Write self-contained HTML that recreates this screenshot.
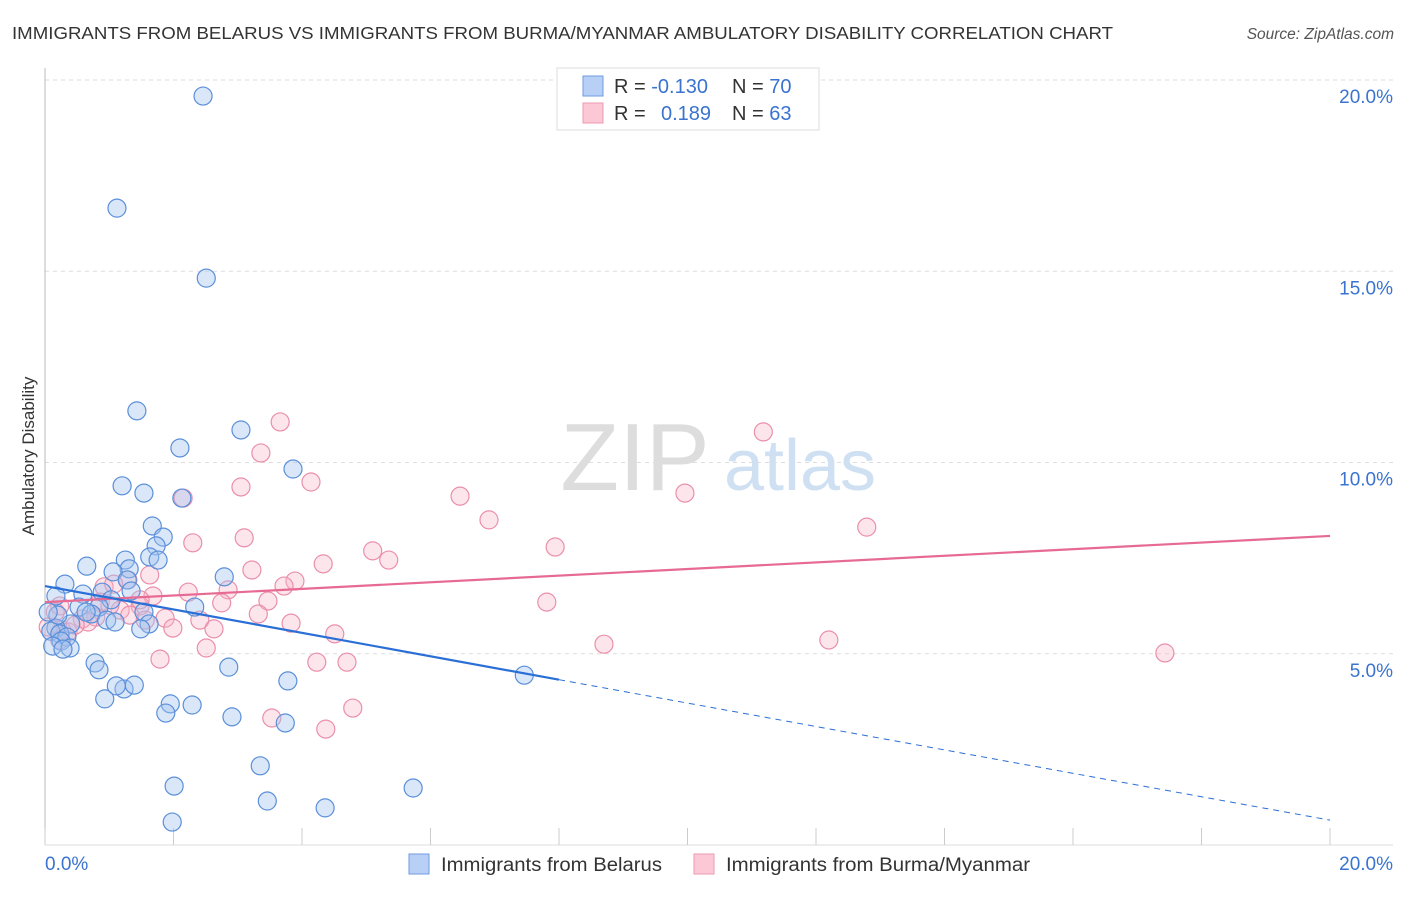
<!DOCTYPE html>
<html><head><meta charset="utf-8"><style>
body{margin:0;background:#fff;font-family:"Liberation Sans",sans-serif;}
svg text{font-family:"Liberation Sans",sans-serif;}
</style></head><body>
<svg width="1406" height="892" viewBox="0 0 1406 892">
<text x="12" y="39" font-size="17.5" fill="#333" textLength="1101" lengthAdjust="spacingAndGlyphs">IMMIGRANTS FROM BELARUS VS IMMIGRANTS FROM BURMA/MYANMAR AMBULATORY DISABILITY CORRELATION CHART</text>
<text x="1394" y="39" font-size="15.5" fill="#555" font-style="italic" text-anchor="end">Source: ZipAtlas.com</text>
<g id="grid"></g>
<g><text x="635" y="490" font-size="96" fill="#ddd" font-family="Liberation Serif" text-anchor="middle">ZIP</text><text x="800" y="490" font-size="72" fill="#d0e0f3" text-anchor="middle">atlas</text></g>
<line x1="45" y1="68" x2="45" y2="845" stroke="#bbb"/>
<line x1="45" y1="845" x2="1393" y2="845" stroke="#ddd"/>
<g id="xticks"></g>
<g id="yticks"></g>
<text x="45" y="870" font-size="19" fill="#3a73d0">0.0%</text>
<text x="1393" y="870" font-size="19" fill="#3a73d0" text-anchor="end">20.0%</text>
<text transform="translate(34,456) rotate(-90)" font-size="17" fill="#333" text-anchor="middle">Ambulatory Disability</text>
<g id="pink"></g>
<g id="blue"></g>
<g id="trends"></g>
<g>
<rect x="557" y="68" width="262" height="62" fill="#fff" stroke="#ddd"/>
<rect x="583" y="76" width="20" height="20" fill="#b8d0f5" stroke="#6f9be0"/>
<rect x="583" y="103" width="20" height="20" fill="#fcc8d6" stroke="#ee9ab2"/>
<text x="614" y="93" font-size="20" fill="#333">R = <tspan fill="#3a73d0">-0.130</tspan></text>
<text x="732" y="93" font-size="20" fill="#333">N = <tspan fill="#3a73d0">70</tspan></text>
<text x="614" y="120" font-size="20" fill="#333">R = <tspan fill="#3a73d0" x="661">0.189</tspan></text>
<text x="732" y="120" font-size="20" fill="#333">N = <tspan fill="#3a73d0">63</tspan></text>
</g>
<g>
<rect x="409" y="854" width="20" height="20" fill="#b8d0f5" stroke="#6f9be0"/>
<text x="441" y="871" font-size="19" fill="#333" textLength="221" lengthAdjust="spacingAndGlyphs">Immigrants from Belarus</text>
<rect x="694" y="854" width="20" height="20" fill="#fcc8d6" stroke="#ee9ab2"/>
<text x="726" y="871" font-size="19" fill="#333" textLength="304" lengthAdjust="spacingAndGlyphs">Immigrants from Burma/Myanmar</text>
</g>
</svg>
<script>
const yTicks=[5,10,15,20];
const yTickLabels=["5.0%","10.0%","15.0%","20.0%"];
const xTicks=[0,2,4,6,8,10,12,14,16,18,20];
const belarusX=[2.46,1.12,2.51,1.43,2.10,3.05,3.86,1.20,1.54,2.13,1.67,1.84,1.73,1.25,1.63,1.76,0.65,1.31,1.06,2.79,0.31,1.28,1.34,0.89,0.59,0.17,1.03,0.53,0.84,2.33,0.72,1.54,0.96,0.40,1.62,1.49,0.17,0.09,0.23,0.34,0.25,0.12,0.39,0.28,0.78,0.84,2.86,7.46,3.78,0.93,1.23,1.39,1.11,1.95,2.29,1.88,2.91,3.74,3.35,2.01,3.46,4.36,5.73,1.98,0.20,0.64,0.05,1.09];
const belarusY=[19.58,16.65,14.82,11.35,10.38,10.85,9.83,9.39,9.20,9.07,8.34,8.05,7.82,7.45,7.53,7.45,7.29,7.22,7.14,7.01,6.82,6.93,6.64,6.61,6.56,6.51,6.41,6.22,6.22,6.22,6.04,6.09,5.88,5.78,5.78,5.65,5.67,5.59,5.52,5.44,5.33,5.20,5.15,5.12,4.76,4.58,4.65,4.44,4.29,3.82,4.08,4.18,4.16,3.69,3.66,3.45,3.35,3.19,2.07,1.54,1.15,0.97,1.49,0.60,6.01,6.09,6.09,5.83];
const burmaX=[3.66,3.36,11.18,4.14,3.05,6.46,9.96,2.15,6.91,12.79,3.10,2.30,5.10,7.94,5.35,4.33,1.63,3.22,3.89,3.72,2.23,2.85,1.68,0.92,1.29,1.07,2.75,3.47,7.81,1.48,1.17,0.86,0.23,1.87,2.41,3.32,3.83,1.32,1.01,1.99,2.63,1.56,0.79,0.58,0.67,4.51,8.70,12.20,17.43,2.51,1.79,4.23,4.70,3.53,4.37,4.79,0.26,0.16,0.36,0.47,0.05,0.23,1.48];
const burmaY=[11.06,10.25,10.80,9.49,9.36,9.12,9.20,9.07,8.50,8.31,8.03,7.90,7.69,7.79,7.45,7.35,7.06,7.19,6.90,6.77,6.61,6.67,6.51,6.75,6.93,6.82,6.33,6.38,6.35,6.25,6.14,6.35,6.25,5.93,5.88,6.04,5.80,6.01,6.27,5.67,5.65,5.88,5.96,5.91,5.83,5.52,5.25,5.36,5.02,5.15,4.86,4.78,4.78,3.32,3.03,3.58,5.62,6.09,5.57,5.75,5.70,5.36,6.41];
const belarusTrend=[6.77,0.65];
const burmaTrend=[6.35,8.08];
const belarusSolidEnd=8.0;
const NS='http://www.w3.org/2000/svg';
const sx=v=>45+v*64.25, sy=v=>845-v*38.25;
function mk(t,a,p){const e=document.createElementNS(NS,t);for(const k in a)e.setAttribute(k,a[k]);p.appendChild(e);return e;}
const grid=document.getElementById('grid'),yt=document.getElementById('yticks'),xt=document.getElementById('xticks');
yTicks.forEach((v,i)=>{
 const l=mk('line',{x1:45,x2:1393,y1:sy(v),y2:sy(v),stroke:'#ddd','stroke-dasharray':'4,4'},grid);
 
 
 const t=mk('text',{x:1393,y:sy(v)+23,'font-size':19,fill:'#3a73d0','text-anchor':'end'},yt);
 t.textContent=yTickLabels[i];
 
 
});
xTicks.forEach(v=>{
 const l=mk('line',{x1:sx(v),x2:sx(v),y1:828,y2:845,stroke:'#ccc'},xt);
 
 
});
function dots(xs,ys,g,fill,stroke,name){
 xs.forEach((x,i)=>{
  const c=mk('circle',{cx:sx(x),cy:sy(ys[i]),r:9,fill:fill,stroke:stroke,'stroke-width':1.2},g);
  
  
 });
}
dots(burmaX,burmaY,document.getElementById('pink'),'rgba(248,180,200,0.35)','#ea8fab','burma-point');
dots(belarusX,belarusY,document.getElementById('blue'),'rgba(160,195,240,0.4)','#5b8fd9','belarus-point');
const tr=document.getElementById('trends');
const by=x=>belarusTrend[0]+(belarusTrend[1]-belarusTrend[0])*x/20;
let e=mk('line',{x1:sx(0),y1:sy(burmaTrend[0]),x2:sx(20),y2:sy(burmaTrend[1]),stroke:'#e66a93','stroke-width':2.2},tr);


e=mk('line',{x1:sx(0),y1:sy(by(0)),x2:sx(belarusSolidEnd),y2:sy(by(belarusSolidEnd)),stroke:'#2a6fd6','stroke-width':2.2},tr);


e=mk('line',{x1:sx(belarusSolidEnd),y1:sy(by(belarusSolidEnd)),x2:sx(20),y2:sy(by(20)),stroke:'#2a6fd6','stroke-width':1,'stroke-dasharray':'6,5'},tr);


</script>
</body></html>
